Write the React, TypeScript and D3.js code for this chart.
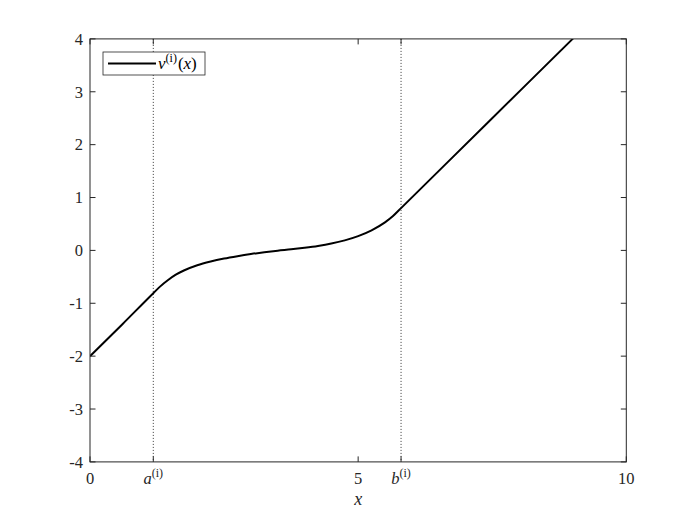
import React, { useRef, useEffect } from "react";
import * as d3 from "d3";

// curve v^(i)(x)
const xValues = [0, 0.6, 1.18, 1.3, 1.45, 1.6, 1.75, 2.0, 2.25, 2.5, 2.75, 3.0, 3.25, 3.5, 3.75, 4.0, 4.25, 4.5, 4.75, 5.0, 5.25, 5.5, 5.65, 5.8, 7.4, 9.0, 10];
const yValues = [-2, -1.4, -0.81, -0.69, -0.565, -0.46, -0.38, -0.28, -0.21, -0.155, -0.11, -0.07, -0.035, -0.005, 0.02, 0.05, 0.085, 0.13, 0.19, 0.27, 0.38, 0.53, 0.65, 0.8, 2.4, 4.0, 5.0];

const aPos = 1.18;
const bPos = 5.8;
const xTicks = [0, aPos, 5, bPos, 10];
const xTickLabels = ["0", "a", "5", "b", "10"];
const yTicks = [-4, -3, -2, -1, 0, 1, 2, 3, 4];
const yTickLabels = ["-4", "-3", "-2", "-1", "0", "1", "2", "3", "4"];

const W = 692;
const H = 519;
const left = 90, right = 626.3, top = 38.9, bottom = 461.9;
const axisColor = "#262626";
const font = "Liberation Serif, DejaVu Serif, serif";

function App() {
  const svgRef = useRef<SVGSVGElement>(null);

  useEffect(() => {
    const svg = d3.select(svgRef.current);
    svg.selectAll("*").remove();

    const x = d3.scaleLinear().domain([0, 10]).range([left, right]);
    const y = d3.scaleLinear().domain([-4, 4]).range([bottom, top]);

    svg.append("rect").attr("width", W).attr("height", H).attr("fill", "#fff");

    svg.append("defs").append("clipPath").attr("id", "plotclip")
      .append("rect")
      .attr("x", left).attr("y", top)
      .attr("width", right - left).attr("height", bottom - top);

    // dotted vertical lines at a and b
    [aPos, bPos].forEach((v) => {
      svg.append("line")
        .attr("x1", x(v)).attr("x2", x(v))
        .attr("y1", top).attr("y2", bottom)
        .attr("stroke", "#000")
        .attr("stroke-width", 0.8)
        .attr("stroke-dasharray", "1,2");
    });

    // curve
    const pts = xValues.map((v, i) => [v, yValues[i]] as [number, number]);
    const line = d3.line<[number, number]>()
      .x((d) => x(d[0]))
      .y((d) => y(d[1]))
      .curve(d3.curveMonotoneX);
    svg.append("path")
      .datum(pts)
      .attr("d", line)
      .attr("fill", "none")
      .attr("stroke", "#000")
      .attr("stroke-width", 2)
      .attr("clip-path", "url(#plotclip)");

    // box
    svg.append("rect")
      .attr("x", left).attr("y", top)
      .attr("width", right - left).attr("height", bottom - top)
      .attr("fill", "none")
      .attr("stroke", axisColor)
      .attr("stroke-width", 1);

    const tickLen = 5.5;
    const ticks = svg.append("g").attr("stroke", axisColor).attr("stroke-width", 1);
    xTicks.forEach((v) => {
      ticks.append("line").attr("x1", x(v)).attr("x2", x(v)).attr("y1", bottom).attr("y2", bottom - tickLen);
      ticks.append("line").attr("x1", x(v)).attr("x2", x(v)).attr("y1", top).attr("y2", top + tickLen);
    });
    yTicks.forEach((v) => {
      ticks.append("line").attr("x1", left).attr("x2", left + tickLen).attr("y1", y(v)).attr("y2", y(v));
      ticks.append("line").attr("x1", right).attr("x2", right - tickLen).attr("y1", y(v)).attr("y2", y(v));
    });

    // y tick labels
    svg.append("g")
      .selectAll("text")
      .data(yTicks)
      .join("text")
      .attr("x", left - 7)
      .attr("y", (d) => y(d))
      .attr("dy", "0.35em")
      .attr("text-anchor", "end")
      .attr("font-family", font)
      .attr("font-size", 16.5)
      .attr("fill", axisColor)
      .text((d, i) => yTickLabels[i]);

    // x tick labels
    const xl = svg.append("g");
    xTicks.forEach((v, i) => {
      const lab = xTickLabels[i];
      const t = xl.append("text")
        .attr("x", x(v))
        .attr("y", bottom + 22)
        .attr("text-anchor", "middle")
        .attr("font-family", font)
        .attr("font-size", 16.5)
        .attr("fill", axisColor);
      if (lab === "a" || lab === "b") {
        t.append("tspan").attr("font-style", "italic").text(lab);
        t.append("tspan").attr("font-size", 12).attr("dy", -7).text("(i)");
      } else {
        t.text(lab);
      }
    });

    // x axis label
    svg.append("text")
      .attr("x", (left + right) / 2)
      .attr("y", bottom + 43)
      .attr("text-anchor", "middle")
      .attr("font-family", font)
      .attr("font-style", "italic")
      .attr("font-size", 18)
      .attr("fill", axisColor)
      .text("x");

    // legend
    const lg = svg.append("g");
    lg.append("rect")
      .attr("x", 103).attr("y", 52)
      .attr("width", 102).attr("height", 23)
      .attr("fill", "#fff")
      .attr("stroke", axisColor)
      .attr("stroke-width", 0.8);
    lg.append("line")
      .attr("x1", 108).attr("x2", 156)
      .attr("y1", 63.5).attr("y2", 63.5)
      .attr("stroke", "#000").attr("stroke-width", 2);
    const lt = lg.append("text")
      .attr("x", 158).attr("y", 69)
      .attr("font-family", font)
      .attr("font-size", 17)
      .attr("fill", "#000");
    lt.append("tspan").attr("font-style", "italic").text("v");
    lt.append("tspan").attr("font-size", 12).attr("dy", -7).text("(i)");
    lt.append("tspan").attr("dy", 7).attr("dx", 1).text("(");
    lt.append("tspan").attr("font-style", "italic").text("x");
    lt.append("tspan").text(")");
  }, []);

  return (
    <svg
      ref={svgRef}
      width={W}
      height={H}
      style={{ position: "absolute", left: 0, top: 0, display: "block" }}
    ></svg>
  );
}

export default App;
